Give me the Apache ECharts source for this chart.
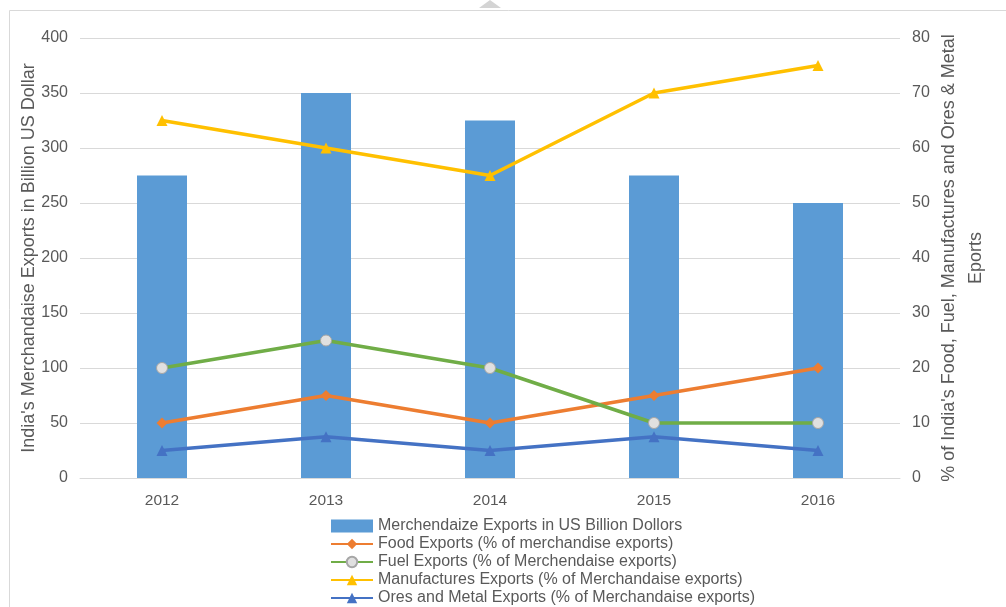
<!DOCTYPE html>
<html>
<head>
<meta charset="utf-8">
<script src="https://cdn.jsdelivr.net/npm/echarts@6/dist/echarts.min.js"></script>
<style>html,body{margin:0;padding:0;background:#fff}#c{width:1006px;height:607px}</style>
</head>
<body>
<div id="c"></div>
<script>
const years = ['2012', '2013', '2014', '2015', '2016'];
const merchandise = [275, 350, 325, 275, 250];
const food = [10, 15, 10, 15, 20];
const fuel = [20, 25, 20, 10, 10];
const manufactures = [65, 60, 55, 70, 75];
const ores = [5, 7.5, 5, 7.5, 5];
const leftTicks = { min: 0, max: 400, interval: 50 };
const rightTicks = { min: 0, max: 80, interval: 10 };

const FONT = 'Liberation Sans';
const TXT = '#595959';
const chart = echarts.init(document.getElementById('c'), null, { renderer: 'canvas' });

const lineSeries = (name, data, color, symbol, extra) => Object.assign({
  name, type: 'line', yAxisIndex: 1, data,
  symbol, symbolSize: 11,
  lineStyle: { color, width: 3.5 },
  itemStyle: { color, borderColor: color, borderWidth: 0 },
  emphasis: { disabled: true }
}, extra || {});

chart.setOption({
  animation: false,
  textStyle: { fontFamily: FONT },
  grid: { left: 80, right: 106, top: 38, bottom: 129, containLabel: false },
  graphic: [
    { type: 'rect', left: 7, top: 8, shape: { width: 1010, height: 620 }, style: { fill: 'none', stroke: '#d9d9d9', lineWidth: 1 }, silent: true },
    { type: 'polygon', shape: { points: [[479, 8], [490, 0], [501, 8]] }, style: { fill: '#d4d4d4' }, silent: true }
  ],
  legend: {
    orient: 'vertical', left: 330, top: 518, itemGap: 2, padding: 0,
    itemWidth: 42, itemHeight: 13,
    textStyle: { color: TXT, fontSize: 16, lineHeight: 16, fontFamily: FONT },
    data: [
      { name: 'Merchendaize Exports in US Billion Dollors', icon: 'rect', itemStyle: { color: '#5B9BD5' } },
      'Food Exports (% of merchandise exports)',
      'Fuel Exports (% of Merchendaise exports)',
      'Manufactures Exports (% of Merchandaise exports)',
      'Ores and Metal Exports (% of Merchandaise exports)'
    ]
  },
  xAxis: {
    type: 'category', data: years,
    axisLine: { show: true, lineStyle: { color: '#d9d9d9', width: 1 } },
    axisTick: { show: false },
    axisLabel: { color: TXT, fontSize: 15.5, margin: 15 }
  },
  yAxis: [
    {
      type: 'value', position: 'left', min: leftTicks.min, max: leftTicks.max, interval: leftTicks.interval,
      name: "India's Merchandaise Exports in Billion US Dollar",
      nameLocation: 'middle', nameGap: 42, nameMoveOverlap: false,
      nameTextStyle: { color: TXT, fontSize: 18, fontFamily: FONT },
      axisLine: { show: false }, axisTick: { show: false },
      axisLabel: { color: TXT, fontSize: 16, margin: 12 },
      splitLine: { lineStyle: { color: '#d9d9d9', width: 1 } }
    },
    {
      type: 'value', position: 'right', min: rightTicks.min, max: rightTicks.max, interval: rightTicks.interval,
      name: "% of India's Food, Fuel, Manufactures and Ores & Metal\nEports",
      nameLocation: 'middle', nameGap: 36, nameMoveOverlap: false,
      nameTextStyle: { color: TXT, fontSize: 18, fontFamily: FONT, lineHeight: 27 },
      axisLine: { show: false }, axisTick: { show: false },
      axisLabel: { color: TXT, fontSize: 16, margin: 12 },
      splitLine: { show: false }
    }
  ],
  series: [
    {
      name: 'Merchendaize Exports in US Billion Dollors', type: 'bar', yAxisIndex: 0,
      data: merchandise, barWidth: 50,
      itemStyle: { color: '#5B9BD5' }, emphasis: { disabled: true }
    },
    lineSeries('Food Exports (% of merchandise exports)', food, '#ED7D31', 'diamond'),
    lineSeries('Fuel Exports (% of Merchendaise exports)', fuel, '#70AD47', 'circle', {
      itemStyle: { color: '#e0e0e0', borderColor: '#a6a6a6', borderWidth: 1 }
    }),
    lineSeries('Manufactures Exports (% of Merchandaise exports)', manufactures, '#FFC000', 'triangle'),
    lineSeries('Ores and Metal Exports (% of Merchandaise exports)', ores, '#4472C4', 'triangle')
  ]
});
</script>
</body>
</html>
